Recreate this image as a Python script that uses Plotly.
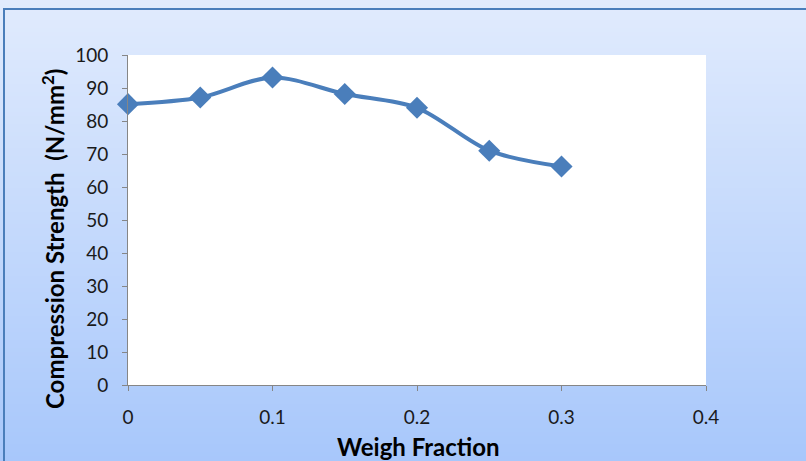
import plotly.graph_objects as go

weight_fraction = [0, 0.05, 0.1, 0.15, 0.2, 0.25, 0.3]
compression_strength = [85.1, 87.1, 93.2, 88.2, 84.0, 71.0, 66.2]
x_ticks = [0, 0.1, 0.2, 0.3, 0.4]
x_tick_labels = ["0", "0.1", "0.2", "0.3", "0.4"]
y_ticks = [0, 10, 20, 30, 40, 50, 60, 70, 80, 90, 100]

W, H = 806, 461
L, R, T, B = 128, 706, 55, 385

def px(x):
    return (x - L) / (R - L)

def py(y):
    return (B - y) / (B - T)

line_color = "#4A7EBB"
font = "Lato, Carlito, Liberation Sans, sans-serif"

fig = go.Figure()
fig.add_trace(go.Scatter(
    x=weight_fraction, y=compression_strength,
    mode="lines+markers",
    line=dict(color=line_color, width=4, shape="spline", smoothing=0.9),
    marker=dict(symbol="diamond", size=17, color=line_color),
    cliponaxis=False,
    showlegend=False,
))

shapes = []
top = (0xE1, 0xEB, 0xFD)
bot = (0xA7, 0xC7, 0xFB)
band = 4
n = (H + band - 1) // band
for i in range(n):
    t = i / (n - 1)
    c = tuple(round(top[k] + (bot[k] - top[k]) * t) for k in range(3))
    shapes.append(dict(type="rect", xref="paper", yref="paper",
                       x0=px(-5), x1=px(W + 5), y0=py(i * band + band + 1), y1=py(i * band),
                       fillcolor="rgb(%d,%d,%d)" % c, line=dict(width=0), layer="below"))
shapes.append(dict(type="rect", xref="paper", yref="paper", x0=0, x1=1, y0=0, y1=1,
                   fillcolor="white", line=dict(width=0), layer="below"))
shapes.append(dict(type="rect", xref="paper", yref="paper",
                   x0=px(4), x1=px(W + 20), y0=py(H + 20), y1=py(9),
                   fillcolor="rgba(0,0,0,0)", line=dict(color="#4A7EBB", width=2), layer="above"))

annotations = [
    dict(text="Compression Strength  (N/mm<sup>2</sup>)", xref="paper", yref="paper",
         x=px(53), y=py(239), textangle=-90, showarrow=False,
         font=dict(family=font, size=24, color="#000000", weight="bold"),
         xanchor="center", yanchor="middle"),
    dict(text="Weigh Fraction", xref="paper", yref="paper",
         x=px(418), y=py(446), showarrow=False,
         font=dict(family=font, size=24, color="#000000", weight="bold"),
         xanchor="center", yanchor="middle"),
]

axis_common = dict(showline=True, linecolor="#868686", linewidth=1, ticks="outside",
                   ticklen=5, tickcolor="#868686", showgrid=False, zeroline=False,
                   tickfont=dict(family=font, size=19, color="#1a1a1a"))

fig.update_layout(
    width=W, height=H,
    margin=dict(l=L, r=W - R, t=T, b=H - B),
    paper_bgcolor="#C4DAFC",
    plot_bgcolor="white",
    shapes=shapes,
    annotations=annotations,
    xaxis=dict(range=[0, 0.4], tickvals=x_ticks, ticktext=x_tick_labels,
               ticklabelstandoff=10, **axis_common),
    yaxis=dict(range=[0, 100], tickvals=y_ticks, ticklabelstandoff=10, **axis_common),
)

fig.write_html("out.html", config={"displayModeBar": False},
               post_script="document.body.style.margin='0';document.body.style.overflow='hidden';")
